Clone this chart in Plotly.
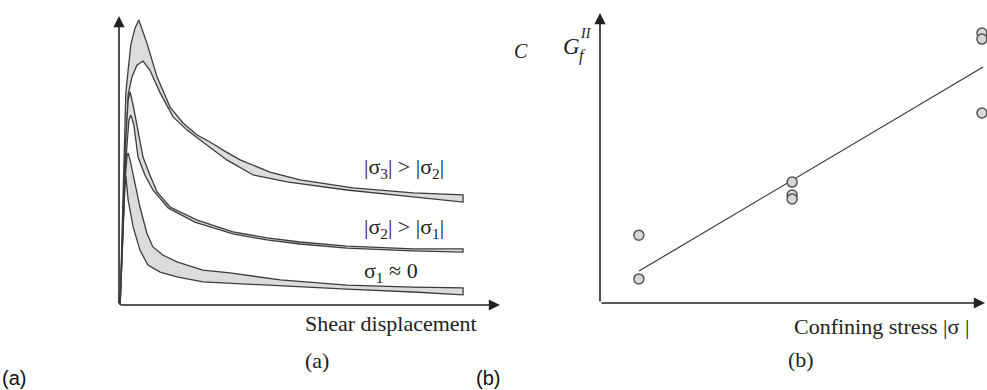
import plotly.graph_objects as go

# ---------------- panel (a): shear stress vs shear displacement ----------------
# normalised units, 0..100 on both axes
s3_upper_x = [0.3, 1.3, 1.8, 2.4, 3.1, 4.2, 5.2, 7.3, 10.0, 13.4, 16.8, 20.5, 23.9, 27.3, 31.8, 39.6, 47.5, 61.4, 77.2, 90.3]
s3_upper_y = [0.0, 53.6, 73.4, 81.3, 90.0, 95.8, 98.6, 90.7, 78.9, 68.5, 63.0, 58.8, 56.4, 53.6, 50.2, 46.0, 43.3, 40.5, 38.8, 38.1]
s3_lower_x = [0.3, 1.8, 2.4, 3.4, 4.7, 6.3, 8.1, 10.8, 14.2, 17.8, 21.3, 24.7, 28.3, 35.2, 44.1, 59.8, 77.2, 90.3]
s3_lower_y = [0.0, 53.6, 72.7, 78.9, 83.0, 84.4, 81.3, 73.4, 65.1, 60.6, 57.1, 53.6, 50.2, 45.0, 42.6, 39.8, 37.4, 35.6]

s2_upper_x = [0.3, 1.6, 2.4, 2.9, 3.7, 4.7, 6.3, 8.1, 10.0, 13.4, 20.5, 29.9, 38.8, 47.5, 59.8, 77.2, 90.3]
s2_upper_y = [0.0, 53.6, 70.9, 73.7, 69.2, 62.3, 51.2, 45.0, 39.1, 33.9, 29.4, 25.3, 23.2, 21.8, 20.4, 19.4, 19.4]
s2_lower_x = [0.3, 1.8, 2.6, 3.1, 3.9, 5.0, 6.8, 8.9, 12.9, 19.9, 29.9, 38.8, 47.5, 59.8, 77.2, 90.3]
s2_lower_y = [0.0, 50.2, 64.0, 65.7, 62.3, 51.2, 45.0, 39.8, 33.6, 28.7, 24.6, 22.5, 21.1, 19.7, 18.7, 18.3]

s1_upper_x = [0.3, 1.6, 2.1, 2.4, 2.9, 4.2, 5.5, 7.3, 8.9, 11.5, 15.2, 22.0, 29.1, 42.3, 59.8, 77.2, 90.3]
s1_upper_y = [0.0, 43.3, 51.6, 52.6, 50.2, 42.2, 33.9, 24.9, 20.1, 17.3, 14.9, 12.1, 11.1, 8.7, 6.9, 6.2, 5.9]
s1_lower_x = [0.3, 1.0, 1.6, 1.8, 2.4, 3.7, 5.5, 7.6, 10.8, 15.2, 22.0, 29.1, 42.3, 59.8, 77.2, 90.3]
s1_lower_y = [0.0, 26.0, 44.3, 44.6, 36.3, 27.0, 19.0, 13.8, 11.4, 9.7, 8.0, 7.3, 6.6, 5.5, 4.5, 3.5]

band_labels = ["|σ<sub>3</sub>| > |σ<sub>2</sub>|", "|σ<sub>2</sub>| > |σ<sub>1</sub>|", "σ<sub>1</sub> ≈ 0"]
band_label_x = [63.8, 63.8, 63.8]
band_label_y = [47.4, 26.6, 11.4]

# ---------------- panel (b): fracture energy vs confining stress ----------------
conf_x = [10.1, 10.1, 49.9, 49.9, 49.9, 99.2, 99.2, 99.2]
gf_y = [23.4, 8.3, 41.7, 37.2, 35.9, 93.1, 91.0, 65.5]
fit_x = [10.1, 99.5]
fit_y = [11.0, 81.4]

SERIF = "Liberation Serif"
SANS = "Liberation Sans"
INK = "#222222"
EDGE = "#3c3c3c"
FILL = "#dcdcdc"

fig = go.Figure()


def band(ux, uy, lx, ly):
    fig.add_trace(go.Scatter(
        x=ux + lx[::-1], y=uy + ly[::-1],
        mode="lines", fill="toself", fillcolor=FILL,
        line=dict(color=EDGE, width=1.3),
        xaxis="x", yaxis="y", hoverinfo="skip", showlegend=False))


band(s3_upper_x, s3_upper_y, s3_lower_x, s3_lower_y)
band(s2_upper_x, s2_upper_y, s2_lower_x, s2_lower_y)
band(s1_upper_x, s1_upper_y, s1_lower_x, s1_lower_y)

fig.add_trace(go.Scatter(
    x=fit_x, y=fit_y, mode="lines",
    line=dict(color="#3a3a3a", width=1.2),
    xaxis="x2", yaxis="y2", showlegend=False))
fig.add_trace(go.Scatter(
    x=conf_x, y=gf_y, mode="markers", cliponaxis=False,
    marker=dict(size=10, color="#d6d6d6", line=dict(color="#555555", width=1.5)),
    xaxis="x2", yaxis="y2", showlegend=False))

ax_common = dict(showgrid=False, zeroline=False, showticklabels=False,
                 ticks="", showline=False, range=[0, 100], fixedrange=True)

fig.update_layout(
    width=987, height=390,
    margin=dict(l=0, r=0, t=0, b=0),
    paper_bgcolor="white", plot_bgcolor="white",
    xaxis=dict(domain=[119 / 987, 500 / 987], anchor="y", **ax_common),
    yaxis=dict(domain=[85 / 390, 374 / 390], anchor="x", **ax_common),
    xaxis2=dict(domain=[600 / 987, 985 / 987], anchor="y2", **ax_common),
    yaxis2=dict(domain=[87 / 390, 377 / 390], anchor="x2", **ax_common),
)

anns = []
# axes drawn as arrows from the origin
for xr, yr in (("x", "y"), ("x2", "y2")):
    for tip in ((100, 0), (0, 100)):
        anns.append(dict(x=tip[0], y=tip[1], ax=0, ay=0, xref=xr, yref=yr,
                         axref=xr, ayref=yr, text="", showarrow=True,
                         arrowhead=2, arrowsize=1.4, arrowwidth=1.6,
                         arrowcolor=INK, standoff=0, startstandoff=0))

serif = dict(family=SERIF, size=22, color=INK)
for txt, lx, ly in zip(band_labels, band_label_x, band_label_y):
    anns.append(dict(x=lx, y=ly, xref="x", yref="y", text=txt, showarrow=False,
                     xanchor="left", yanchor="middle", font=serif))

anns += [
    dict(x=-6, y=90.5, xref="x", yref="y", text="τ", showarrow=False,
         xanchor="center", yanchor="middle", font=dict(family=SERIF, size=20, color=INK)),
    dict(x=303 / 987, y=1 - 323 / 390, xref="paper", yref="paper", text="Shear displacement",
         showarrow=False, xanchor="left", yanchor="middle", font=serif),
    dict(x=303 / 987, y=1 - 360 / 390, xref="paper", yref="paper", text="(a)",
         showarrow=False, xanchor="left", yanchor="middle", font=serif),
    dict(x=792 / 987, y=1 - 326 / 390, xref="paper", yref="paper", text="Confining stress |σ |",
         showarrow=False, xanchor="left", yanchor="middle", font=serif),
    dict(x=786 / 987, y=1 - 359 / 390, xref="paper", yref="paper", text="(b)",
         showarrow=False, xanchor="left", yanchor="middle", font=serif),
    # G_f^II symbol on the vertical axis of (b)
    dict(x=561 / 987, y=1 - 46 / 390, xref="paper", yref="paper", text="<i>G</i>",
         showarrow=False, xanchor="left", yanchor="middle", font=dict(family=SERIF, size=23, color=INK)),
    dict(x=578 / 987, y=1 - 33 / 390, xref="paper", yref="paper", text="<i>II</i>",
         showarrow=False, xanchor="left", yanchor="middle", font=dict(family=SERIF, size=14, color=INK)),
    dict(x=577 / 987, y=1 - 56 / 390, xref="paper", yref="paper", text="<i>f</i>",
         showarrow=False, xanchor="left", yanchor="middle", font=dict(family=SERIF, size=16, color=INK)),
    dict(x=512 / 987, y=1 - 51 / 390, xref="paper", yref="paper", text="<i>C</i>",
         showarrow=False, xanchor="left", yanchor="middle", font=dict(family=SERIF, size=20, color=INK)),
    # panel tags
    dict(x=0, y=1 - 378 / 390, xref="paper", yref="paper", text="(a)",
         showarrow=False, xanchor="left", yanchor="middle", font=dict(family=SANS, size=20, color="#111111")),
    dict(x=474 / 987, y=1 - 378 / 390, xref="paper", yref="paper", text="(b)",
         showarrow=False, xanchor="left", yanchor="middle", font=dict(family=SANS, size=20, color="#111111")),
]
fig.update_layout(annotations=anns)

fig.write_html("out.html")
